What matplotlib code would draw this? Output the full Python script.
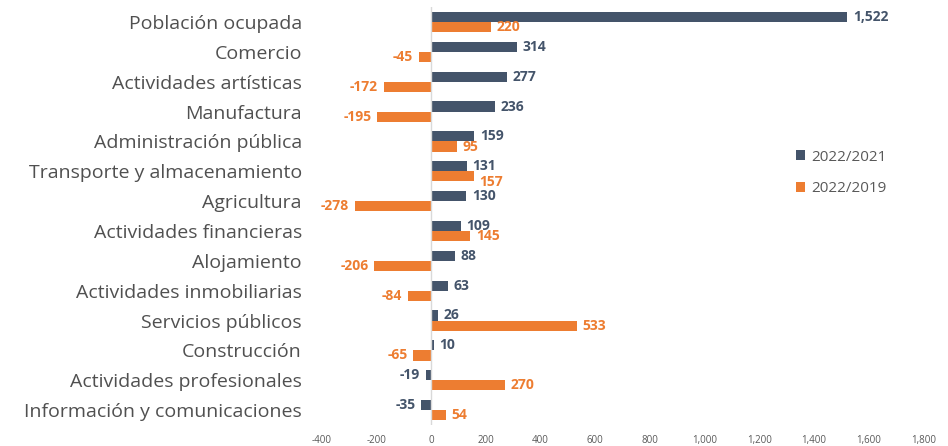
import matplotlib.pyplot as plt
import numpy as np

# datos
categorias = ["Población ocupada", "Comercio", "Actividades artísticas", "Manufactura",
              "Administración pública", "Transporte y almacenamiento", "Agricultura",
              "Actividades financieras", "Alojamiento", "Actividades inmobiliarias",
              "Servicios públicos", "Construcción", "Actividades profesionales",
              "Información y comunicaciones"]
v2021 = [1522, 314, 277, 236, 159, 131, 130, 109, 88, 63, 26, 10, -19, -35]
v2019 = [220, -45, -172, -195, 95, 157, -278, 145, -206, -84, 533, -65, 270, 54]
series = ["2022/2021", "2022/2019"]
xticks = [-400, -200, 0, 200, 400, 600, 800, 1000, 1200, 1400, 1600, 1800]

azul = "#44546A"
naranja = "#ED7D31"

plt.rcParams['font.family'] = ['Open Sans', 'DejaVu Sans']

fig = plt.figure(figsize=(9.48, 4.46), dpi=100)
ax = fig.add_axes([0.339, 0.047, 0.635, 0.937])

y = np.arange(len(categorias))
h = 0.34
ax.barh(y - h/2, v2021, height=h, color=azul, label=series[0])
ax.barh(y + h/2, v2019, height=h, color=naranja, label=series[1])

for i in range(len(categorias)):
    # la etiqueta naranja baja un poco si choca con la azul (como en el original)
    baja = -4 if (v2021[i] > 0 and v2019[i] > v2021[i] and v2019[i] - v2021[i] < 30) else 0
    for val, yy, col, dy in [(v2021[i], y[i] - h/2, azul, 0), (v2019[i], y[i] + h/2, naranja, baja)]:
        if val >= 0:
            ax.annotate(f"{val:,}", (val, yy), xytext=(4, dy), textcoords="offset points",
                        ha="left", va="center", color=col, fontsize=10, fontweight="bold")
        else:
            ax.annotate(f"{val:,}", (val, yy), xytext=(-4, dy), textcoords="offset points",
                        ha="right", va="center", color=col, fontsize=10, fontweight="bold")

ax.set_xlim(-400, 1800)
ax.set_ylim(len(categorias) - 0.5, -0.5)
ax.set_xticks(xticks)
ax.set_xticklabels([f"{t:,}" for t in xticks], fontsize=7, color="#595959")
ax.set_yticks(y)
ax.set_yticklabels(categorias, fontsize=14, color="#505050")
ax.tick_params(axis="both", length=0)
ax.tick_params(axis="y", pad=14)
ax.tick_params(axis="x", pad=7)
for s in ax.spines.values():
    s.set_visible(False)
ax.axvline(0, color="#D9D9D9", lw=1)

ax.legend(loc="center left", bbox_to_anchor=(0.765, 0.603), frameon=False,
          fontsize=11, labelcolor="#595959", handlelength=0.6, handleheight=0.6,
          handletextpad=0.4, labelspacing=1.1)

plt.savefig("out.png")
